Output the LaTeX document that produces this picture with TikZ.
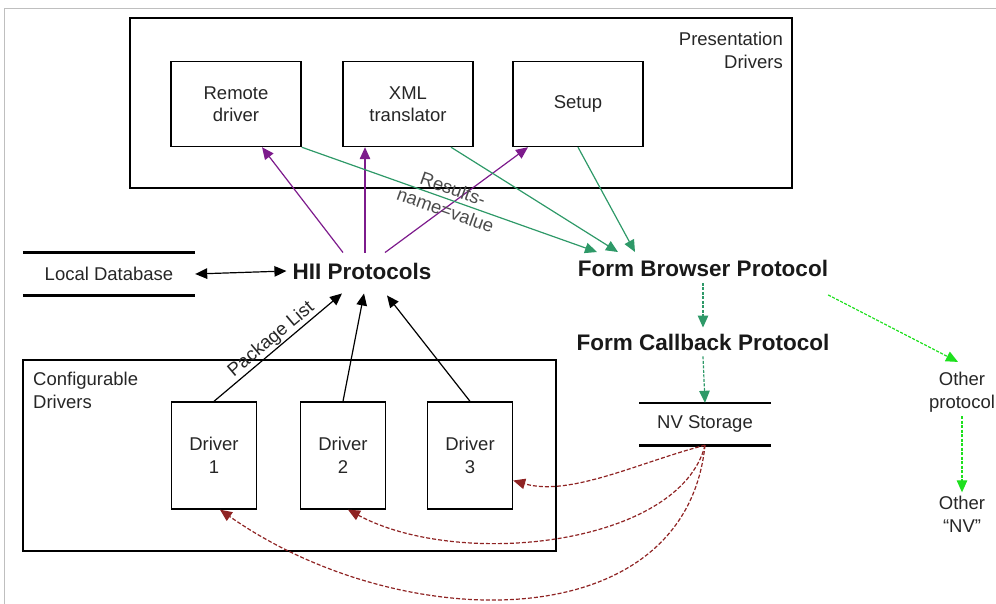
\documentclass[tikz,border=0pt]{standalone}
\usepackage{fontspec}
\setmainfont{Liberation Sans}
\usetikzlibrary{arrows.meta}
\definecolor{hiipurple}{HTML}{7D1B8C}
\definecolor{formgreen}{HTML}{2E9968}
\definecolor{othgreen}{HTML}{1EE01E}
\definecolor{nvred}{HTML}{8F2323}
\begin{document}
\begin{tikzpicture}[x=1pt,y=-1pt,
 lbl/.style={font=\fontsize{18.5}{22.5}\selectfont,align=center,text=black!85},
 box/.style={lbl,draw,line width=1.4pt,inner sep=0pt},
 proto/.style={font=\fontsize{22.5}{27}\selectfont\bfseries,inner sep=6pt,text=black!90},
 store/.style={line width=2.6pt},
 arr/.style={line width=1.2pt,-{Triangle[length=12pt,width=10.5pt]}},
 purp/.style={arr,hiipurple},
 grn/.style={arr,formgreen},
 grndash/.style={arr,formgreen,dash pattern=on 3pt off 1.5pt},
 lime/.style={arr,othgreen,dash pattern=on 3pt off 1.5pt},
 redash/.style={arr,nvred,dash pattern=on 4pt off 2pt}]
\useasboundingbox (0,0) rectangle (996,604);
\draw[black!25,line width=1pt] (4,604)--(4,9)--(996,9);
% presentation drivers
\node[box,minimum width=662,minimum height=170] (pres) at (461,103) {};
\node[lbl,align=right,anchor=north east,inner sep=0pt] (presl) at (783,32) {Presentation\\Drivers};
\node[box,minimum width=130,minimum height=85] (rem) at (236,104) {Remote\\driver};
\node[box,minimum width=130,minimum height=85] (xml) at (408,104) {XML\\translator};
\node[box,minimum width=130,minimum height=85] (setup) at (578,104) {Setup};
% configurable drivers
\node[box,minimum width=533,minimum height=191] (cfg) at (289.5,455.5) {};
\node[lbl,align=left,anchor=north west,inner sep=0pt] (cfgl) at (33,372) {Configurable\\Drivers};
\foreach \i/\x in {1/214,2/343,3/470}{\node[box,minimum width=85,minimum height=107] (d\i) at (\x,455.5) {Driver\\\i};}
% protocols and stores
\node[proto] (hii) at (362,271) {HII Protocols};
\node[proto] (fbp) at (703,268.5) {Form Browser Protocol};
\node[proto] (fcp) at (703,342) {Form Callback Protocol};
\node[lbl,minimum width=172,minimum height=42,inner sep=0pt] (ldb) at (109,274) {Local Database};
\draw[store] (ldb.north west)--(ldb.north east) (ldb.south west)--(ldb.south east);
\node[lbl,minimum width=131,minimum height=42,inner sep=0pt] (nv) at (705,424) {NV Storage};
\draw[store] (nv.north west)--(nv.north east) (nv.south west)--(nv.south east);
\node[lbl,inner sep=4pt] (oth) at (962,392) {Other\\protocol};
\node[lbl,inner sep=4pt] (onv) at (962,514.5) {Other\\“NV”};
% connectors
\draw[line width=1.2pt,{Triangle[length=12pt,width=10.5pt]}-{Triangle[length=12pt,width=10.5pt]}] (ldb.east) -- (hii.west);
\draw[purp] ([xshift=-19,yshift=4]hii.north) -- ([xshift=26]rem.south);
\draw[purp] ([xshift=3,yshift=4]hii.north) -- ([xshift=-43]xml.south);
\draw[purp] ([xshift=23,yshift=4]hii.north) -- ([xshift=-50]setup.south);
\draw[grn] (rem.south east) -- node[pos=.5,sloped,lbl,text=black!70] {Results-\\name=value} ([xshift=-106,yshift=2]fbp.north);
\draw[grn] ([xshift=43]xml.south) -- ([xshift=-85,yshift=2]fbp.north);
\draw[grn] (setup.south) -- ([xshift=-68,yshift=2]fbp.north);
\draw[arr] (d1.north) -- node[pos=.5,sloped,above,lbl,inner sep=1pt] {Package List} ([xshift=-20,yshift=-8]hii.south);
\draw[arr] (d2.north) -- ([xshift=2,yshift=-8]hii.south);
\draw[arr] (d3.north) -- ([xshift=25,yshift=-10]hii.south);
\draw[grndash] (fbp.south) -- (fcp.north);
\draw[grndash] (fcp.south) -- (nv.north);
\draw[lime] ([xshift=-6,yshift=-12]fbp.south east) -- ([xshift=-4,yshift=6]oth.north);
\draw[lime] (oth.south) -- (onv.north);
\draw[redash] (nv.south) .. controls (640,462) and (570,497) .. ([yshift=-25]d3.east);
\draw[redash] (nv.south) .. controls (680,545) and (460,570) .. ([xshift=5]d2.south);
\draw[redash] (nv.south) .. controls (685,640) and (400,636) .. ([xshift=6]d1.south);
\end{tikzpicture}
\end{document}
